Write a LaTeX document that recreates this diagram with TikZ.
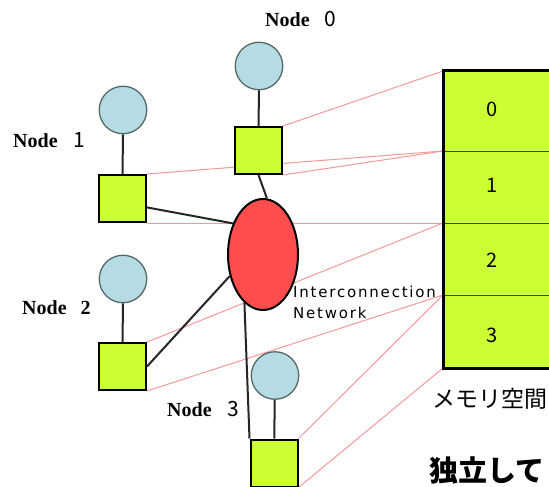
\documentclass[tikz,border=0pt]{standalone}
\usepackage{fontspec}
\setmainfont{Liberation Serif}
\newfontfamily\jpfont{Noto Sans CJK JP}
\newfontfamily\netfont{DejaVu Sans}[LetterSpace=12]
\usetikzlibrary{shapes.geometric,backgrounds}

\definecolor{cellgreen}{HTML}{CCFF33}
\definecolor{pcblue}{HTML}{B4DCE2}
\definecolor{pcedge}{HTML}{55676B}
\definecolor{netred}{HTML}{FF4D4D}
\definecolor{linkpink}{HTML}{F29A9A}

\begin{document}
\begin{tikzpicture}[x=1pt,y=-1pt,
  pc/.style={circle, fill=pcblue, draw=pcedge, line width=1.3pt, minimum size=47.5pt, inner sep=0},
  nic/.style={rectangle, fill=cellgreen, draw=black, line width=2pt, minimum size=47pt, inner sep=0},
  netnode/.style={ellipse, fill=netred, draw=black, line width=2pt, minimum width=70pt, minimum height=111pt, inner sep=0},
  wire/.style={draw=black!85, line width=2pt},
  maplink/.style={draw=linkpink, line width=1pt},
  cell/.style={rectangle, fill=cellgreen, draw=black!75, line width=1pt, minimum width=120pt, inner sep=0, anchor=north west},
  cellnum/.style={font=\jpfont\fontsize{20}{20}\selectfont, inner sep=0},
  nodename/.style={font=\bfseries\fontsize{20}{20}\selectfont, inner sep=0, anchor=base west},
]
\useasboundingbox (0,0) rectangle (549,487);

% memory space: four stacked cells
\node[cell, minimum height=80pt] (m0) at (443,71) {};
\node[cell, minimum height=72pt] (m1) at (443,151) {};
\node[cell, minimum height=72pt] (m2) at (443,223) {};
\node[cell, minimum height=72pt] (m3) at (443,295) {};
\draw[line width=3pt] (m0.north west) rectangle (m3.south east);
\node[cellnum] (k0) at (492,109) {0};
\node[cellnum] (k1) at (492,185) {1};
\node[cellnum] (k2) at (492,260) {2};
\node[cellnum] (k3) at (492,335) {3};

% processors and their network interfaces
\node[pc] (c0) at (259,66) {};
\node[nic] (s0) at (258.5,150.5) {};
\node[pc] (c1) at (123,110) {};
\node[nic] (s1) at (122.5,198.5) {};
\node[pc] (c2) at (123,279) {};
\node[nic] (s2) at (122.5,366.5) {};
\node[pc] (c3) at (275,375.5) {};
\node[nic] (s3) at (274,463) {};

% interconnection network
\node[netnode] (net) at (263,254.5) {};

% local links
\draw[wire] (c0) -- (s0);
\draw[wire] (c1) -- (s1);
\draw[wire] (c2) -- (s2);
\draw[wire] (c3) -- (s3);
\draw[wire] (s0.south) -- (net.86);
\draw[wire] (s1.-20.6) -- (net.134);
\draw[wire] (s2.east) -- (net.213);
\draw[wire] (net.249) -- (s3.north west);

% white page and address-space mapping of each node, behind everything
\begin{pgfonlayer}{background}
\fill[white] (0,0) rectangle (549,487);
\draw[maplink] (s0.north east) -- (m0.north west);
\draw[maplink] (s0.south east) -- (m1.north west);
\draw[maplink] (s1.north east) -- (m1.north west);
\draw[maplink] (s1.south east) -- (m2.north west);
\draw[maplink] (s2.north east) -- (m2.north west);
\draw[maplink] (s2.south east) -- (m3.north west);
\draw[maplink] (s3.north east) -- (m3.north west);
\draw[maplink] (s3.south east) -- (m3.south west);
\end{pgfonlayer}

% labels
\node[nodename] (l0) at (265,27) {Node\hspace{15pt}{\jpfont\mdseries\fontsize{21}{21}\selectfont 0}};
\node[nodename] (l1) at (13,147) {Node\hspace{16pt}{\jpfont\mdseries\fontsize{21}{21}\selectfont 1}};
\node[nodename] (l2) at (22,314) {Node\hspace{14pt}2};
\node[nodename] (l3) at (167,416) {Node\hspace{16pt}{\jpfont\mdseries\fontsize{21}{21}\selectfont 3}};

\node[font=\netfont\fontsize{15}{21}\selectfont, align=left, inner sep=0, anchor=west] (nl) at (293,302.5)
  {Interconnection\\ Network};

\node[font=\jpfont\fontsize{23}{23}\selectfont, inner sep=0] (ms) at (490,399) {メモリ空間};
\node[font=\jpfont\bfseries\fontsize{29}{29}\selectfont, inner sep=0, anchor=west] (ind) at (429,470) {独立して};
\end{tikzpicture}
\end{document}
